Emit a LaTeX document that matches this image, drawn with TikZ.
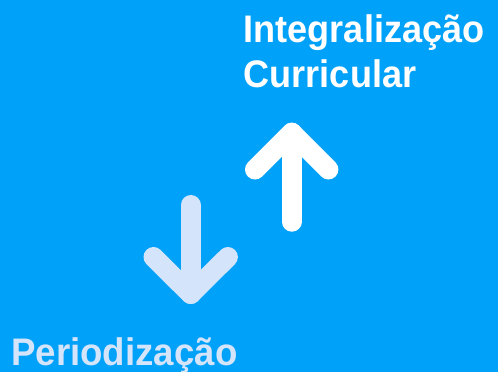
\documentclass[tikz,border=0pt]{standalone}
\usepackage{fontspec}
\usepackage{graphicx}
\setmainfont{Liberation Sans}
\definecolor{bgblue}{RGB}{0,161,248}
\definecolor{lightblue}{RGB}{212,228,250}
\tikzset{
  arrowline/.style={line width=20pt, line cap=round, line join=round},
  bigtext/.style={inner sep=0pt, anchor=base west, font=\fontsize{38.4}{41}\selectfont\bfseries}
}
\begin{document}
\begin{tikzpicture}[x=1pt,y=-1pt]
\fill[bgblue] (0,0) rectangle (498,372);
\useasboundingbox (0,0) rectangle (498,372);
% up arrow (white)
\coordinate (ub) at (291.7,221.7);
\coordinate (ut) at (291.7,132.7);
\coordinate (ul) at (255,169.5);
\coordinate (ur) at (328.4,169.5);
\draw[arrowline, white] (ub) -- (ut);
\draw[arrowline, white] (ul) -- (ut) -- (ur);
% down arrow (light blue)
\coordinate (dt) at (190.7,205);
\coordinate (db) at (190.7,294);
\coordinate (dl) at (153.5,257);
\coordinate (dr) at (227.9,257);
\draw[arrowline, lightblue] (dt) -- (db);
\draw[arrowline, lightblue] (dl) -- (db) -- (dr);
% texts
\node[bigtext, text=white] (l1) at (243.5,42.5) {\scalebox{0.94}[1]{Integralização}};
\node[bigtext, text=white] (l2) at (243.5,87.5) {\scalebox{0.94}[1]{Curricular}};
\node[bigtext, text=lightblue] (p) at (11,365.5) {\scalebox{0.955}[1]{Periodização}};
\end{tikzpicture}
\end{document}
